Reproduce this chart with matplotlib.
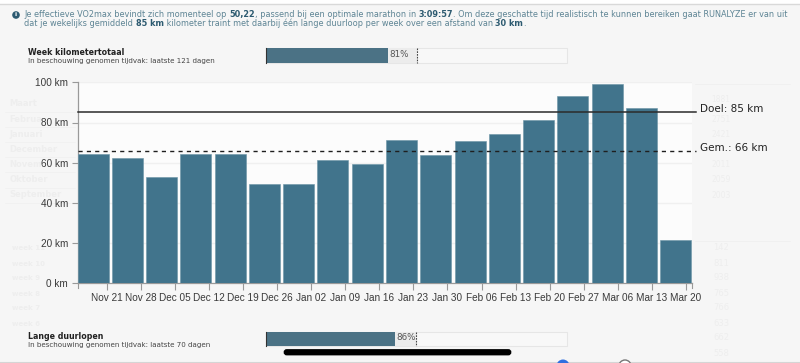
import matplotlib
matplotlib.use("Agg")
import matplotlib.pyplot as plt
from matplotlib.patches import Rectangle, Circle, FancyBboxPatch

W, H = 800, 363

week_labels = ["Nov 21", "Nov 28", "Dec 05", "Dec 12", "Dec 19", "Dec 26", "Jan 02", "Jan 09", "Jan 16",
               "Jan 23", "Jan 30", "Feb 06", "Feb 13", "Feb 20", "Feb 27", "Mar 06", "Mar 13", "Mar 20"]
week_km = [64.2, 62.2, 53.1, 64.1, 64.2, 49.3, 49.2, 61.4, 59.4,
           71.1, 63.8, 70.8, 74.3, 81.4, 93.0, 99.0, 87.4, 21.6]
y_ticks = [0, 20, 40, 60, 80, 100]
goal_km = 85
avg_km = 66

line1 = [("Je effectieve VO2max bevindt zich momenteel op ", False), ("50,22", True),
         (", passend bij een optimale marathon in ", False), ("3:09:57", True),
         (". Om deze geschatte tijd realistisch te kunnen bereiken gaat RUNALYZE er van uit", False)]
line2 = [("dat je wekelijks gemiddeld ", False), ("85 km", True),
         (" kilometer traint met daarbij één lange duurloop per week over een afstand van ", False),
         ("30 km", True), (".", False)]

# faded page content behind the overlay, only the parts that can be read
ghost_months = ["Maart", "Februa", "Januari", "December", "Novem", "Oktober", "September"]
ghost_weeks = ["week 11", "week 10", "week 9", "week 8", "week 7", "week 6"]
ghost_right_top = ["1881", "2751", "2421", "", "2011", "2059", "2003"]
ghost_right_low = ["142", "811", "938", "765", "766", "633", "662", "558"]

bar_color = "#41748c"
teal_text = "#5d8494"
teal_bold = "#2c5a70"
ghost = "#eeeeee"

fig = plt.figure(figsize=(W / 100, H / 100), dpi=100, facecolor="#f6f6f6")

# overlay in pixel coords, y downwards
bg = fig.add_axes([0, 0, 1, 1], zorder=0)
bg.set_xlim(0, W)
bg.set_ylim(H, 0)
bg.axis("off")

bg.add_patch(Rectangle((0, 0), W, 3.5, fc="white", ec="none"))
bg.plot([0, W], [3.8, 3.8], color="#d9d9d9", lw=1)
bg.add_patch(Circle((16, 15), 3.8, fc=teal_bold, ec="none"))
bg.text(16, 15, "i", color="white", fontsize=4.5, ha="center", va="center", fontweight="bold")


def run_text(x, y, runs, size):
    rend = fig.canvas.get_renderer()
    for s, bold in runs:
        t = bg.text(x, y, s, fontsize=size, va="center", ha="left", family="DejaVu Sans",
                    color=teal_bold if bold else teal_text, fontweight="bold" if bold else "normal")
        x += t.get_window_extent(rend).width


run_text(24, 14.7, line1, 5.83)
run_text(24, 23, line2, 5.83)

for i, m in enumerate(ghost_months):
    bg.text(9.5, 104 + i * 15.1, m, fontsize=6, color=ghost, fontweight="bold", va="center")
    bg.plot([5, 75], [112 + i * 15.1] * 2, color="#f1f1f1", lw=0.6)
for i, w in enumerate(ghost_weeks):
    bg.text(12, 248.5 + i * 15, w, fontsize=5, color=ghost, fontweight="bold", va="center")
for i, v in enumerate(ghost_right_top):
    # first row sits just above the Doel label
    bg.text(721, 100 if i == 0 else 104.5 + i * 15.1, v, fontsize=5.5, color=ghost, ha="center", va="center")
for i, v in enumerate(ghost_right_low):
    bg.text(721, 248 + i * 15, v, fontsize=6, color=ghost, ha="center", va="center")
bg.plot([695, 790], [84, 84], color="#f0f0f0", lw=0.6)
bg.plot([695, 790], [241, 241], color="#f0f0f0", lw=0.6)


def progress(y0, y1, fill_x, mark_x, pct, title, sub, sub_size):
    bg.add_patch(Rectangle((265.5, y0), 301, y1 - y0, fc="#f8f8f8", ec="#e6e6e6", lw=0.8, zorder=2))
    bg.add_patch(Rectangle((265.5, y0), mark_x - 265.5, y1 - y0, fc="#ececec", ec="none", zorder=2))
    bg.add_patch(Rectangle((265.5, y0), fill_x - 265.5, y1 - y0, fc="#4b7285", ec="none", zorder=3))
    bg.plot([265.5, 265.5], [y0, y1], color="#333333", lw=0.8, zorder=4)
    bg.plot([mark_x, mark_x], [y0, y1], color="#444444", lw=0.8, ls=(0, (1.5, 1)), zorder=4)
    bg.text(fill_x + 1.5, (y0 + y1) / 2 - 1, pct, fontsize=6.3, color="#555555", va="center", zorder=5)
    bg.text(27.5, y0 + 4.7, title, fontsize=5.7, color="#222222", fontweight="bold", va="center")
    bg.text(27.5, y0 + 13, sub, fontsize=sub_size, color="#444444", va="center")


progress(48, 62.7, 387.7, 416.8, "81%", "Week kilometertotaal", "In beschouwing genomen tijdvak: laatste 121 dagen", 5.12)
progress(331.5, 345.7, 395, 416.3, "86%", "Lange duurlopen", "In beschouwing genomen tijdvak: laatste 70 dagen", 5.1)

bg.add_patch(FancyBboxPatch((285, 350.5), 225, 3.5, boxstyle="round,pad=0,rounding_size=1.8", mutation_aspect=1,
                            fc="black", ec="black", lw=2, zorder=6))
bg.plot([0, W], [361.7, 361.7], color="#d5d5d5", lw=0.8)
bg.add_patch(Circle((563, 366), 6.5, fc="#2f6fe0", ec="none", zorder=6))
bg.add_patch(Circle((625, 366), 6, fc="white", ec="#777777", lw=1, zorder=6))

# main chart, placed by pixel box
left, right, y0, y100 = 77.5, 691.7, 283.3, 82.3
ax = fig.add_axes([left / W, 1 - y0 / H, (right - left) / W, (y0 - y100) / H], zorder=2)
ax.set_facecolor("#fcfcfc")

step = 34.28
xs = list(range(len(week_km)))
ax.bar(xs, week_km, width=31 / step, align="edge", color=bar_color, edgecolor="#6b94a6", linewidth=0.4, zorder=3)
ax.set_xlim(0, (right - left) / step)
ax.set_ylim(0, 100)

for v in y_ticks[1:]:
    ax.axhline(v, color="#f0f0f0", lw=1, zorder=1)
ax.plot([0, 18.03], [goal_km, goal_km], color="#2b2b2b", lw=1.1, clip_on=False, zorder=4)
ax.plot([0, 18.03], [avg_km, avg_km], color="#1f1f1f", lw=1, ls=(0, (3, 3)), clip_on=False, zorder=4)
ax.text(18.17, goal_km + 1.7, f"Doel: {goal_km} km", fontsize=7.5, family="DejaVu Sans", color="#222222", va="center",
        clip_on=False)
ax.text(18.17, avg_km + 1.5, f"Gem.: {avg_km} km", fontsize=7.5, family="DejaVu Sans", color="#222222", va="center",
        clip_on=False)

tick_pos = [0.852 + 0.994 * i for i in xs]
ax.set_xticks(tick_pos)
ax.set_xticklabels(week_labels, family="Liberation Sans", fontsize=7.2, color="#3a3a3a")
ax.set_yticks(y_ticks)
ax.set_yticklabels([f"{v} km" for v in y_ticks], family="Liberation Sans", fontsize=7.2, color="#3a3a3a")
ax.tick_params(axis="x", length=5, width=0.8, color="#999999", pad=2)
ax.tick_params(axis="y", length=4.3, width=0.8, color="#999999", pad=2.6)
for s in ["top", "right"]:
    ax.spines[s].set_visible(False)
for s in ["left", "bottom"]:
    ax.spines[s].set_color("#999999")
    ax.spines[s].set_linewidth(0.9)
# end marks on the x axis
for px in [0, (right - left) / step]:
    ax.plot([px, px], [0, -2.5], color="#999999", lw=0.8, clip_on=False)

fig.savefig("out.png", dpi=100)
